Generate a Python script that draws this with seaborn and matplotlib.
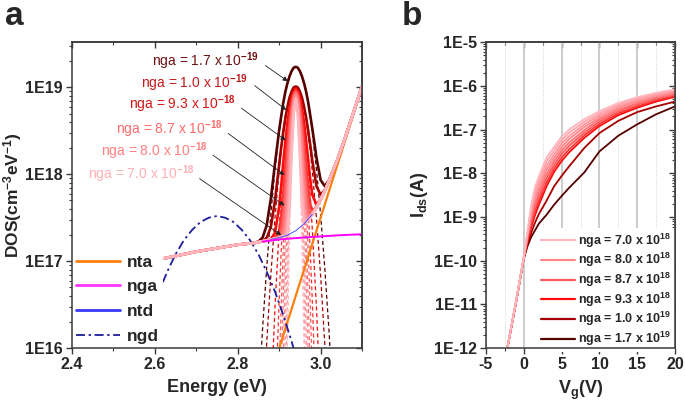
import numpy as np
import pandas as pd
import matplotlib
matplotlib.use('Agg')
import matplotlib.pyplot as plt
from matplotlib.lines import Line2D
from matplotlib.ticker import LogLocator, MultipleLocator, FuncFormatter, NullFormatter
import seaborn as sns

N = None

# ========== PANEL A DATA (log10 of DOS, cm^-3 eV^-1) ==========
# energy grid around the acceptor peak
e_grid = [2.84, 2.85, 2.86, 2.87, 2.88, 2.89, 2.90, 2.905, 2.91, 2.915, 2.92, 2.925, 2.93, 2.935,
          2.94, 2.945, 2.95, 2.955, 2.96, 2.965, 2.97, 2.975, 2.98, 2.99, 3.00, 3.01, 3.02, 3.03, 3.04]
e_left = [2.61, 2.65, 2.70, 2.75, 2.80, 2.82]
e_right = [3.06, 3.08, 3.10]
# band tail sum (nta + background) on e_left + e_grid + e_right
tail_log = [17.02, 17.06, 17.11, 17.15, 17.19, 17.20,
            17.21, 17.22, 17.23, 17.24, 17.25, 17.26, 17.27, 17.28, 17.29, 17.29, 17.30, 17.31, 17.32, 17.34,
            17.35, 17.37, 17.39, 17.41, 17.43, 17.45, 17.48, 17.51, 17.54, 17.62, 17.71, 17.81, 17.92, 18.04, 18.16,
            18.43, 18.72, 19.01]

# deep acceptor gaussians (dashed), on e_grid
gauss_70 = [N] * 9 + [14.47, 16.05, 17.27, 18.15, 18.67, 18.85, 18.67, 18.15, 17.27, 16.05, 14.47] + [N] * 9
gauss_73 = [N] * 9 + [15.42, 16.66, 17.62, 18.31, 18.72, 18.86, 18.72, 18.31, 17.62, 16.66, 15.42] + [N] * 9
gauss_76 = [N] * 8 + [15.01, 16.19, 17.16, 17.91, 18.45, 18.77, 18.88, 18.77, 18.45, 17.91, 17.16, 16.19, 15.01] + [N] * 8
gauss_80 = [N] * 8 + [15.93, 16.84, 17.58, 18.16, 18.57, 18.82, 18.90, 18.82, 18.57, 18.16, 17.58, 16.84, 15.93] + [N] * 8
gauss_83 = [N] * 7 + [15.74, 16.58, 17.30, 17.88, 18.34, 18.66, 18.86, 18.92, 18.86, 18.66, 18.34, 17.88, 17.30,
                      16.58, 15.74] + [N] * 7
gauss_87 = [N] * 6 + [15.74, 16.49, 17.14, 17.69, 18.14, 18.49, 18.74, 18.89, 18.94, 18.89, 18.74, 18.49, 18.14,
                      17.69, 17.14, 16.49, 15.74] + [N] * 6
gauss_90 = [N] * 5 + [15.20, 16.55, 17.12, 17.60, 18.02, 18.35, 18.62, 18.80, 18.92, 18.95, 18.92, 18.80, 18.62,
                      18.35, 18.02, 17.60, 17.12, 16.55, 15.20] + [N] * 5
gauss_93 = [N] * 4 + [15.37, 16.47, 17.37, 17.74, 18.07, 18.34, 18.57, 18.74, 18.87, 18.94, 18.97, 18.94, 18.87,
                      18.74, 18.57, 18.34, 18.07, 17.74, 17.37, 16.47, 15.37] + [N] * 4
gauss_100 = [N] * 2 + [15.16, 16.06, 16.84, 17.50, 18.04, 18.27, 18.46, 18.63, 18.76, 18.87, 18.94, 18.99, 19.00,
                       18.99, 18.94, 18.87, 18.76, 18.63, 18.46, 18.27, 18.04, 17.50, 16.84, 16.06, 15.16] + [N] * 2
gauss_170 = [N] + [15.42, 16.22, 16.93, 17.54, 18.06, 18.48, 18.65, 18.81, 18.94, 19.04, 19.12, 19.18, 19.22, 19.23,
                   19.22, 19.18, 19.12, 19.04, 18.94, 18.81, 18.65, 18.48, 18.06, 17.54, 16.93, 16.22, 15.42] + [N]

nta_e = [2.90, 3.10]
nta_log = [16.0, 19.0]
nga_e = [2.86, 2.90, 2.95, 3.00, 3.05, 3.10]
nga_log = [17.225, 17.25, 17.27, 17.285, 17.30, 17.31]
ntd_e = [2.88, 2.90, 2.92, 2.94, 2.96, 2.98]
ntd_log = [17.25, 17.27, 17.30, 17.35, 17.43, 17.54]
ngd_e = [2.55, 2.57, 2.59, 2.61, 2.63, 2.65, 2.67, 2.69, 2.71, 2.73, 2.75,
         2.77, 2.79, 2.81, 2.83, 2.85, 2.87, 2.89, 2.91, 2.93, 2.95]
ngd_log = [15.74, 16.08, 16.38, 16.65, 16.88, 17.08, 17.24, 17.36, 17.45, 17.50, 17.52,
           17.50, 17.45, 17.36, 17.24, 17.08, 16.88, 16.65, 16.38, 16.08, 15.74]

# ========== PANEL B DATA (log10 Ids in A) ==========
vg = [-2.5, -1, 0, 0.5, 1, 1.5, 2, 3, 4, 5, 6, 8, 10, 12.5, 15, 17.5, 20]
ids_70 = [-12.28, -10.90, -9.92, -9.30, -8.70, -8.30, -8.07, -7.64, -7.40, -7.16, -7.00, -6.76, -6.58, -6.39, -6.26, -6.16, -6.08]
ids_73 = [-12.28, -10.90, -9.92, -9.34, -8.77, -8.39, -8.16, -7.73, -7.48, -7.24, -7.07, -6.82, -6.63, -6.43, -6.29, -6.19, -6.10]
ids_76 = [-12.29, -10.91, -9.92, -9.37, -8.85, -8.49, -8.26, -7.83, -7.57, -7.32, -7.15, -6.88, -6.68, -6.47, -6.33, -6.22, -6.13]
ids_80 = [-12.29, -10.91, -9.92, -9.41, -8.92, -8.58, -8.35, -7.92, -7.65, -7.40, -7.22, -6.94, -6.73, -6.51, -6.36, -6.25, -6.15]
ids_83 = [-12.29, -10.91, -9.93, -9.44, -9.00, -8.67, -8.44, -8.02, -7.73, -7.48, -7.30, -7.01, -6.77, -6.55, -6.40, -6.27, -6.18]
ids_87 = [-12.29, -10.91, -9.93, -9.48, -9.07, -8.76, -8.53, -8.11, -7.81, -7.56, -7.37, -7.07, -6.82, -6.59, -6.43, -6.30, -6.20]
ids_90 = [-12.30, -10.92, -9.93, -9.51, -9.15, -8.86, -8.63, -8.21, -7.89, -7.64, -7.45, -7.13, -6.87, -6.63, -6.47, -6.33, -6.23]
ids_93 = [-12.30, -10.92, -9.93, -9.55, -9.22, -8.95, -8.72, -8.30, -7.97, -7.72, -7.52, -7.19, -6.92, -6.67, -6.50, -6.36, -6.25]
ids_100 = [-12.30, -10.92, -9.94, -9.62, -9.35, -9.12, -8.93, -8.63, -8.30, -8.06, -7.84, -7.42, -7.08, -6.80, -6.60, -6.47, -6.36]
ids_170 = [-12.30, -10.93, -9.95, -9.66, -9.45, -9.30, -9.15, -8.95, -8.72, -8.52, -8.33, -7.98, -7.50, -7.14, -6.88, -6.65, -6.47]

curves = ['7.0', '7.3', '7.6', '8.0', '8.3', '8.7', '9.0', '9.3', '10', '17']
gauss = [gauss_70, gauss_73, gauss_76, gauss_80, gauss_83, gauss_87, gauss_90, gauss_93, gauss_100, gauss_170]
ids = [ids_70, ids_73, ids_76, ids_80, ids_83, ids_87, ids_90, ids_93, ids_100, ids_170]
colors = ['#ffb6bd', '#ffa4ab', '#ff959b', '#ff868b', '#ff7073', '#ff5a5a', '#ff3333', '#ff0a0a', '#a50000', '#560000']
legend_curves = ['7.0', '8.0', '8.7', '9.3', '10', '17']
legend_text = ['7.0 x 10$^{\\mathbf{18}}$', '8.0 x 10$^{\\mathbf{18}}$', '8.7 x 10$^{\\mathbf{18}}$',
               '9.3 x 10$^{\\mathbf{18}}$', '1.0 x 10$^{\\mathbf{19}}$', '1.7 x 10$^{\\mathbf{19}}$']

# ========== STYLE ==========
sns.set_theme(style='ticks')
plt.rcParams['font.family'] = ['Liberation Sans', 'DejaVu Sans']
plt.rcParams['font.weight'] = 'bold'
plt.rcParams['axes.labelweight'] = 'bold'
plt.rcParams['axes.unicode_minus'] = False
plt.rcParams['mathtext.fontset'] = 'custom'
plt.rcParams['mathtext.rm'] = 'Liberation Sans'
plt.rcParams['mathtext.bf'] = 'Liberation Sans:bold'
plt.rcParams['mathtext.it'] = 'Liberation Sans:italic'

fig = plt.figure(figsize=(6.85, 4.13), dpi=100)
ax_a = fig.add_axes([0.105, 0.157, 0.4235, 0.741])
ax_b = fig.add_axes([0.7095, 0.157, 0.276, 0.741])

spine_col = '#3a3a3a'


def style_axes(ax, xmaj, xmin):
    ax.set_yscale('log')
    ax.xaxis.set_major_locator(MultipleLocator(xmaj))
    ax.xaxis.set_minor_locator(MultipleLocator(xmin))
    ax.yaxis.set_major_locator(LogLocator(base=10, numticks=20))
    ax.yaxis.set_minor_locator(LogLocator(base=10, subs=np.arange(2, 10), numticks=20))
    ax.yaxis.set_minor_formatter(NullFormatter())
    ax.yaxis.set_major_formatter(FuncFormatter(lambda v, p: f"1E{int(round(np.log10(v)))}"))
    ax.tick_params(which='both', direction='out', color=spine_col, labelsize=11.5, pad=2)
    ax.tick_params(which='major', length=4.5, width=1)
    ax.tick_params(which='minor', length=2.5, width=0.8)
    for s in ax.spines.values():
        s.set_color(spine_col)
        s.set_linewidth(1.1)
        s.set_visible(True)
        s.set_zorder(12)
    # inward ticks on top and right, as in the original
    top = ax.secondary_xaxis('top')
    top.xaxis.set_major_locator(MultipleLocator(xmaj))
    top.xaxis.set_minor_locator(MultipleLocator(xmin))
    top.tick_params(which='both', direction='in', color=spine_col, labeltop=False)
    top.tick_params(which='major', length=4.5, width=1)
    top.tick_params(which='minor', length=2.5, width=0.8)
    right = ax.secondary_yaxis('right')
    right.yaxis.set_major_locator(LogLocator(base=10, numticks=20))
    right.yaxis.set_minor_locator(LogLocator(base=10, subs=np.arange(2, 10), numticks=20))
    right.yaxis.set_major_formatter(NullFormatter())
    right.yaxis.set_minor_formatter(NullFormatter())
    right.tick_params(which='both', direction='in', color=spine_col, labelright=False)
    right.tick_params(which='major', length=4.5, width=1)
    right.tick_params(which='minor', length=2.5, width=0.8)
    for sec in (top, right):
        for s in sec.spines.values():
            s.set_color(spine_col)
            s.set_linewidth(1.1)


# ========== PANEL A ==========
E_all = np.array(e_left + e_grid + e_right)
tail = 10 ** np.array(tail_log)
n_left = len(e_left)

order = list(range(len(curves)))[::-1]   # dark first, light on top
for i in order:
    g = np.array(gauss[i], dtype=float)
    ax_a.plot(e_grid, 10 ** g, color=colors[i], lw=0.9, ls=(0, (3.2, 2.2)), zorder=2)

ax_a.plot(nta_e, 10 ** np.array(nta_log), color='#ff7f0e', lw=1.6, zorder=3)
ax_a.plot(ngd_e, 10 ** np.array(ngd_log), color='#1c1c9c', lw=1.3, dashes=(5, 2, 1.3, 2), zorder=3.5)

for i in order:
    g = np.nan_to_num(10 ** np.array(gauss[i], dtype=float), nan=0.0)
    total = tail.copy()
    total[n_left:n_left + len(e_grid)] += g
    ax_a.plot(E_all, total, color=colors[i], lw=1.9, zorder=4)

ax_a.plot(ntd_e, 10 ** np.array(ntd_log), color='#4f4fff', lw=0.7, zorder=4.5)
ax_a.plot(nga_e, 10 ** np.array(nga_log), color='#ff00ff', lw=1.4, zorder=5)

style_axes(ax_a, 0.2, 0.1)
ax_a.set_xlim(2.4, 3.1)
ax_a.set_ylim(1e16, 10 ** 19.52)
ax_a.set_xlabel('Energy (eV)', fontsize=13, labelpad=5)
ax_a.set_ylabel('DOS(cm$^{\\mathbf{-3}}$eV$^{\\mathbf{-1}}$)', fontsize=12.5, labelpad=1)

# labels with arrows
lab_text = ['nga = 1.7 x 10$^{-19}$', 'nga = 1.0 x 10$^{-19}$', 'nga = 9.3 x 10$^{-18}$',
            'nga = 8.7 x 10$^{-18}$', 'nga = 8.0 x 10$^{-18}$', 'nga = 7.0 x 10$^{-18}$']
lab_color = ['#6e0f0f', '#c41a1a', '#d41616', '#ff6b6b', '#ff7f7f', '#ffb0b5']
lab_xy = [(2.851, 19.30), (2.824, 19.05), (2.795, 18.81), (2.764, 18.52), (2.728, 18.26), (2.696, 18.00)]
arr_from = [(2.867, 19.25), (2.841, 19.02), (2.809, 18.76), (2.777, 18.47), (2.740, 18.22), (2.708, 17.95)]
arr_to = [(2.921, 19.07), (2.917, 18.74), (2.916, 18.39), (2.913, 17.99), (2.913, 17.64), (2.905, 17.30)]
for t, c, (x, y), (x0, y0), (x1, y1) in zip(lab_text, lab_color, lab_xy, arr_from, arr_to):
    ax_a.text(x, 10 ** y, t, color=c, fontsize=10, fontweight='normal', ha='right', va='center', zorder=6)
    ax_a.annotate('', xy=(x1, 10 ** y1), xytext=(x0, 10 ** y0),
                  arrowprops=dict(arrowstyle='-|>', color='#222222', lw=0.6, mutation_scale=7,
                                  shrinkA=0, shrinkB=0), zorder=6)

handles_a = [Line2D([], [], color='#ff7f0e', lw=2),
             Line2D([], [], color='#ff33ff', lw=2),
             Line2D([], [], color='#3838ff', lw=2),
             Line2D([], [], color='#1c1c9c', lw=1.3, dashes=(5, 2, 1.3, 2))]
leg_a = ax_a.legend(handles_a, ['nta', 'nga', 'ntd', 'ngd'], loc='lower left', bbox_to_anchor=(0.0, 0.0),
                    borderaxespad=0, fontsize=12.5, handlelength=2.5, handletextpad=0.4, labelspacing=0.55,
                    borderpad=0.25, frameon=True, facecolor='white', edgecolor='none', framealpha=1)
leg_a.set_zorder(10)

# ========== PANEL B ==========
rows = []
for name, vals in zip(curves, ids):
    for v, l in zip(vg, vals):
        rows.append({'Vg': v, 'Ids': 10 ** l, 'curve': name})
df_b = pd.DataFrame(rows)

ax_b.set_axisbelow(True)
ax_b.grid(which='major', axis='x', color='#c8c8c8', lw=1.3)
ax_b.grid(which='minor', axis='x', color='#d4d4d4', lw=0.7, ls=':')
ax_b.grid(which='both', axis='y', visible=False)
sns.lineplot(data=df_b, x='Vg', y='Ids', hue='curve', hue_order=curves[::-1],
             palette=dict(zip(curves, colors)), lw=1.3, legend=False, ax=ax_b, zorder=3)
style_axes(ax_b, 5, 2.5)
ax_b.set_xlim(-5, 20)
ax_b.set_ylim(1e-12, 1e-5)
ax_b.set_xlabel('V$_{\\mathbf{g}}$(V)', fontsize=13, labelpad=5)
ax_b.set_ylabel('I$_{\\mathbf{ds}}$(A)', fontsize=13, labelpad=3)

handles_b = [Line2D([], [], color=colors[curves.index(n)], lw=1.6) for n in legend_curves]
leg_b = ax_b.legend(handles_b, ['nga = ' + t for t in legend_text], loc='lower right',
                    bbox_to_anchor=(1.0, -0.012), borderaxespad=0, fontsize=9, handlelength=2.7,
                    handletextpad=0.25, labelspacing=0.12, borderpad=0.3, frameon=True, facecolor='white',
                    edgecolor='none', framealpha=1)
leg_b.set_zorder(10)

fig.text(0.008, 1 - 25 / 413, 'a', fontsize=24, fontweight='bold', va='baseline')
fig.text(0.587, 1 - 25 / 413, 'b', fontsize=24, fontweight='bold', va='baseline')

fig.savefig('out.png', dpi=100)
